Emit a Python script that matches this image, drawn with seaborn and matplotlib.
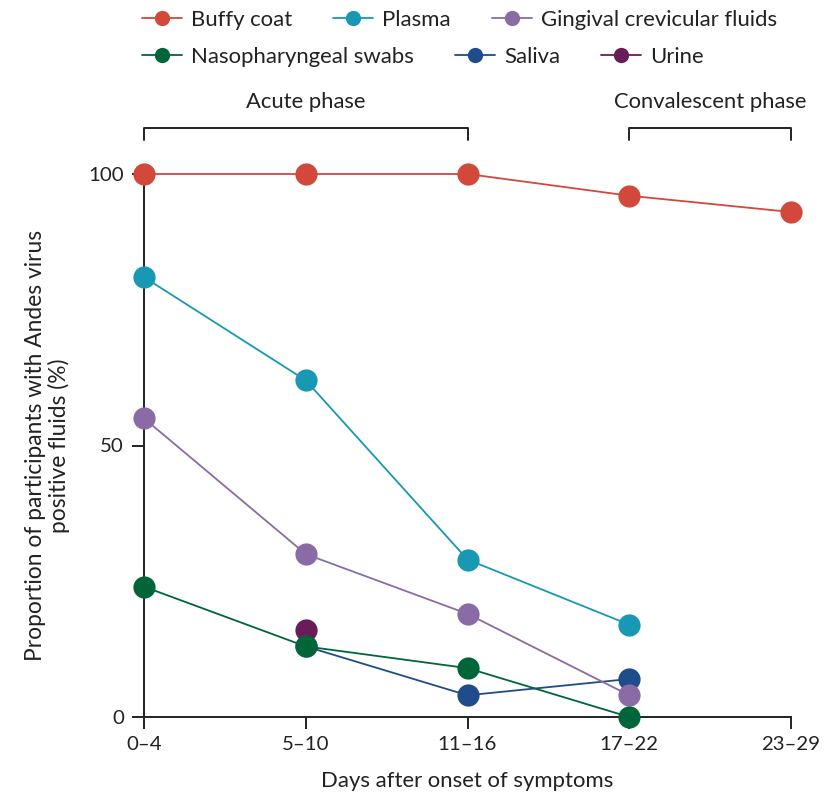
import numpy as np
import pandas as pd
import matplotlib
matplotlib.use("Agg")
import matplotlib.pyplot as plt
from matplotlib.lines import Line2D
import seaborn as sns

# ---- data ----
periods = ["0\u20134", "5\u201310", "11\u201316", "17\u201322", "23\u201329"]
buffy_coat = [100, 100, 100, 96, 93]
plasma = [81, 62, 29, 17, None]
gingival = [55, 30, 19, 4, None]
nasopharyngeal = [24, 13, 9, 0, None]
saliva = [None, 13, 4, 7, None]
urine = [None, 16, None, None, None]

series_names = ["Buffy coat", "Plasma", "Gingival crevicular fluids",
                "Nasopharyngeal swabs", "Saliva", "Urine"]
series_values = [buffy_coat, plasma, gingival, nasopharyngeal, saliva, urine]
colors = ["#d2483b", "#1898b3", "#8a6ba5", "#00663a", "#1f4c8b", "#6a1c5a"]
draw_order = ["Buffy coat", "Plasma", "Saliva", "Urine",
              "Gingival crevicular fluids", "Nasopharyngeal swabs"]
phases = [("Acute phase", 0, 2), ("Convalescent phase", 3, 4)]
yticks = [0, 50, 100]
xlabel = "Days after onset of symptoms"
ylabel = "Proportion of participants with Andes virus\npositive fluids (%)"

rows = []
for name, vals in zip(series_names, series_values):
    for i, v in enumerate(vals):
        if v is not None:
            rows.append({"x": i, "value": v, "fluid": name})
df = pd.DataFrame(rows)
palette = dict(zip(series_names, colors))

sns.set_theme(style="ticks")
FAM = ["Lato", "DejaVu Sans"]
plt.rcParams["font.family"] = FAM
ink = "#222222"

W, H = 825, 798
fig = plt.figure(figsize=(W / 100, H / 100), dpi=100)
renderer = fig.canvas.get_renderer()


def fit_size(s, target_px, ref=20.0):
    t = fig.text(0, 0, s, fontsize=ref)
    w = t.get_window_extent(renderer).width
    t.remove()
    return ref * target_px / w


fs_xlabel = fit_size(xlabel, 293)
fs_ylabel = fit_size(ylabel.split("\n")[0], 432)
fs_phase = fit_size("Convalescent phase", 193)
fs_tick = fit_size("11\u201316", 59)
fs_leg = (fit_size("Nasopharyngeal swabs", 223) +
          fit_size("Gingival crevicular fluids", 237)) / 2

ax = fig.add_axes([144 / W, (H - 717) / H, (791 - 144) / W, (717 - 174) / H])

sns.lineplot(data=df, x="x", y="value", hue="fluid", hue_order=draw_order,
             palette=palette, marker="o", markersize=16, markeredgewidth=0,
             linewidth=1.3, legend=False, ax=ax, clip_on=False, zorder=3)

ax.set_xlim(0, len(periods) - 1)
ax.set_ylim(0, 100)
ax.set_xticks(range(len(periods)))
ax.set_xticklabels(periods)
ax.set_yticks(yticks)
ax.set_yticklabels([str(t) for t in yticks])
for s in ["top", "right"]:
    ax.spines[s].set_visible(False)
for s in ["left", "bottom"]:
    ax.spines[s].set_color(ink)
    ax.spines[s].set_linewidth(1.4)
ax.tick_params(direction="out", length=8.5, width=1.4, color=ink,
               labelsize=fs_tick, labelcolor=ink)
ax.tick_params(axis="x", pad=5)
ax.tick_params(axis="y", pad=6)
ax.set_xlabel(xlabel, fontsize=fs_xlabel, color=ink, labelpad=13)
ax.set_ylabel(ylabel, fontsize=fs_ylabel, color=ink, linespacing=1.12)
ax.yaxis.set_label_coords(-0.114, 0.5)

# phase brackets (px -> data: 5.43 px per unit)
for label, x0, x1 in phases:
    ax.plot([x0, x0, x1, x1], [106.3, 108.5, 108.5, 106.3], color=ink,
            lw=1.4, clip_on=False)
    ax.text((x0 + x1) / 2, 112.2, label, ha="center", va="baseline",
            fontsize=fs_phase, color=ink, clip_on=False)

# legend in two rows
fpx = fs_leg * 100 / 72.0


def make_handles(names):
    return [Line2D([0], [0], color=palette[n], lw=1.3, marker="o",
                   markersize=11, markeredgewidth=0) for n in names]


rows_legend = [series_names[:3], series_names[3:]]
centers = [20, 57]
for names, cy in zip(rows_legend, centers):
    leg = fig.legend(make_handles(names), names, ncol=3, frameon=False,
                     loc="center left", bbox_to_anchor=(142 / W, 1 - cy / H),
                     bbox_transform=fig.transFigure, borderpad=0,
                     borderaxespad=0, fontsize=fs_leg,
                     handlelength=40 / fpx, handletextpad=9 / fpx,
                     columnspacing=41 / fpx)
    for t in leg.get_texts():
        t.set_color(ink)

fig.savefig("out.png", dpi=100)
